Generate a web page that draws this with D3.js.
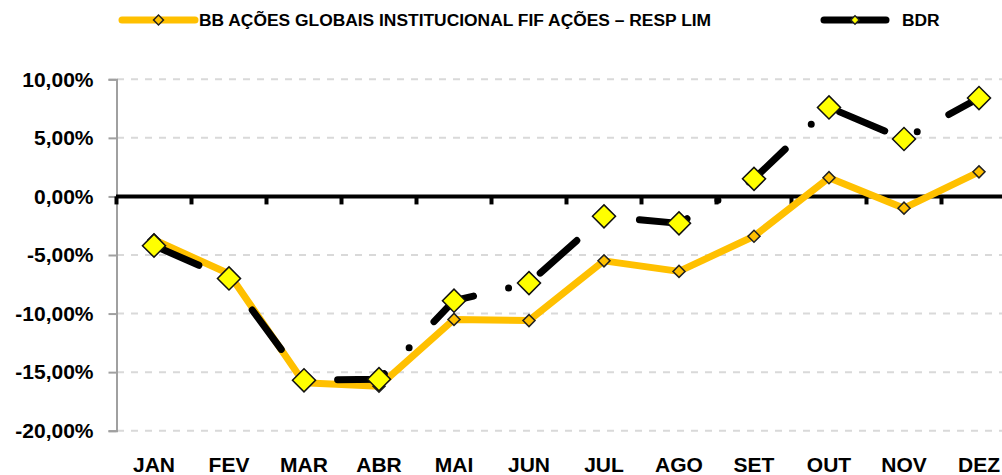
<!DOCTYPE html>
<html>
<head>
<meta charset="utf-8">
<script src="https://cdn.jsdelivr.net/npm/d3@7"></script>
<style>
    body { margin: 0; background: #fff; }
    svg { display: block; font-family: "Liberation Sans", Arial, sans-serif; font-weight: bold; }
</style>
</head>
<body>
<div id="chart"></div>
<script>
// Monthly returns (%)
const months = ['JAN', 'FEV', 'MAR', 'ABR', 'MAI', 'JUN', 'JUL', 'AGO', 'SET', 'OUT', 'NOV', 'DEZ'];
const fundValues = [-3.7, -6.6, -15.9, -16.2, -10.5, -10.6, -5.5, -6.4, -3.4, 1.6, -1.0, 2.1];
const bdrValues = [-4.2, -7.0, -15.7, -15.6, -8.9, -7.4, -1.7, -2.3, 1.5, 7.6, 4.9, 8.4];
const yTicks = [-20, -15, -10, -5, 0, 5, 10];
const fundLabel = 'BB AÇÕES GLOBAIS INSTITUCIONAL FIF AÇÕES – RESP LIM';
const bdrLabel = 'BDR';

const width = 1002, height = 475;
const orange = '#FFC000', yellow = '#FFFF00';
const fontFamily = '"Liberation Sans", Arial, sans-serif';

const svg = d3.select('#chart')
    .append('svg')
    .attr('width', width)
    .attr('height', height);

const x = d3.scaleBand()
    .domain(months)
    .range([116.5, 1016.5])
    .padding(0);

const y = d3.scaleLinear()
    .domain([-20, 10])
    .range([430.7, 79.3]);

const cx = d => x(d) + x.bandwidth() / 2;

// Gridlines
svg.append('g')
    .selectAll('line')
    .data(yTicks.filter(d => d !== 0))
    .join('line')
    .attr('x1', 117).attr('x2', width)
    .attr('y1', d => y(d)).attr('y2', d => y(d))
    .attr('stroke', '#d9d9d9')
    .attr('stroke-width', 2)
    .attr('stroke-dasharray', '7,7');

// Y axis
const yAxis = svg.append('g')
    .attr('transform', 'translate(116.5,0)')
    .call(d3.axisLeft(y)
        .tickValues(yTicks)
        .tickSize(8)
        .tickPadding(15)
        .tickFormat(d => d.toFixed(2).replace('.', ',') + '%'));

yAxis.selectAll('path, line').attr('stroke', '#a0a0a0').attr('stroke-width', 2);
yAxis.selectAll('text')
    .attr('fill', '#000')
    .style('font-size', '21px')
    .style('font-weight', 'bold')
    .style('font-family', fontFamily);

// Zero line with category ticks
const zeroG = svg.append('g');
zeroG.append('line')
    .attr('x1', 116).attr('x2', width)
    .attr('y1', y(0)).attr('y2', y(0))
    .attr('stroke', '#000')
    .attr('stroke-width', 4);
zeroG.selectAll('.ztick')
    .data(months)
    .join('line')
    .attr('class', 'ztick')
    .attr('x1', d => x(d)).attr('x2', d => x(d))
    .attr('y1', y(0)).attr('y2', y(0) + 8)
    .attr('stroke', '#000')
    .attr('stroke-width', 4);

// Category labels
const xAxis = svg.append('g')
    .attr('transform', 'translate(0,457)')
    .call(d3.axisBottom(x).tickSize(0).tickPadding(0));
xAxis.select('.domain').remove();
xAxis.selectAll('text')
    .attr('fill', '#000')
    .style('font-size', '21px')
    .style('font-weight', 'bold')
    .style('font-family', fontFamily);

const line = d3.line()
    .x((d, i) => cx(months[i]))
    .y(d => y(d));

const diamond = (side) => d3.symbol().type(d3.symbolSquare).size(side * side);

// Fund series
svg.append('path')
    .datum(fundValues)
    .attr('d', line)
    .attr('fill', 'none')
    .attr('stroke', orange)
    .attr('stroke-width', 7)
    .attr('stroke-linejoin', 'round');

svg.append('g')
    .selectAll('path')
    .data(fundValues)
    .join('path')
    .attr('d', diamond(8.5))
    .attr('transform', (d, i) => `translate(${cx(months[i])},${y(d)}) rotate(45)`)
    .attr('fill', orange)
    .attr('stroke', '#222')
    .attr('stroke-width', 1.5);

// BDR series (long dash - dot)
svg.append('path')
    .datum(bdrValues)
    .attr('d', line)
    .attr('fill', 'none')
    .attr('stroke', '#000')
    .attr('stroke-width', 7)
    .attr('stroke-linecap', 'round')
    .attr('stroke-linejoin', 'round')
    .attr('stroke-dasharray', '49,36,0,36');

svg.append('g')
    .selectAll('path')
    .data(bdrValues)
    .join('path')
    .attr('d', diamond(16.3))
    .attr('transform', (d, i) => `translate(${cx(months[i])},${y(d)}) rotate(45)`)
    .attr('fill', yellow)
    .attr('stroke', '#111')
    .attr('stroke-width', 1.5);

// Legend
const legend = svg.append('g');
const legendItems = [
    { label: fundLabel, x1: 122, x2: 195, color: orange, marker: orange, side: 7 },
    { label: bdrLabel, x1: 824, x2: 886, color: '#000', marker: yellow, side: 6 }
];
legendItems.forEach(item => {
    const g = legend.append('g');
    g.append('line')
        .attr('x1', item.x1).attr('x2', item.x2)
        .attr('y1', 20).attr('y2', 20)
        .attr('stroke', item.color)
        .attr('stroke-width', 7)
        .attr('stroke-linecap', 'round');
    g.append('path')
        .attr('d', diamond(item.side))
        .attr('transform', `translate(${(item.x1 + item.x2) / 2},20) rotate(45)`)
        .attr('fill', item.marker)
        .attr('stroke', '#222')
        .attr('stroke-width', 1.5);
    g.append('text')
        .attr('x', item.x2 + (item.color === orange ? 4 : 16))
        .attr('y', 26)
        .style('font-size', '17.4px')
        .text(item.label);
});
</script>
</body>
</html>
